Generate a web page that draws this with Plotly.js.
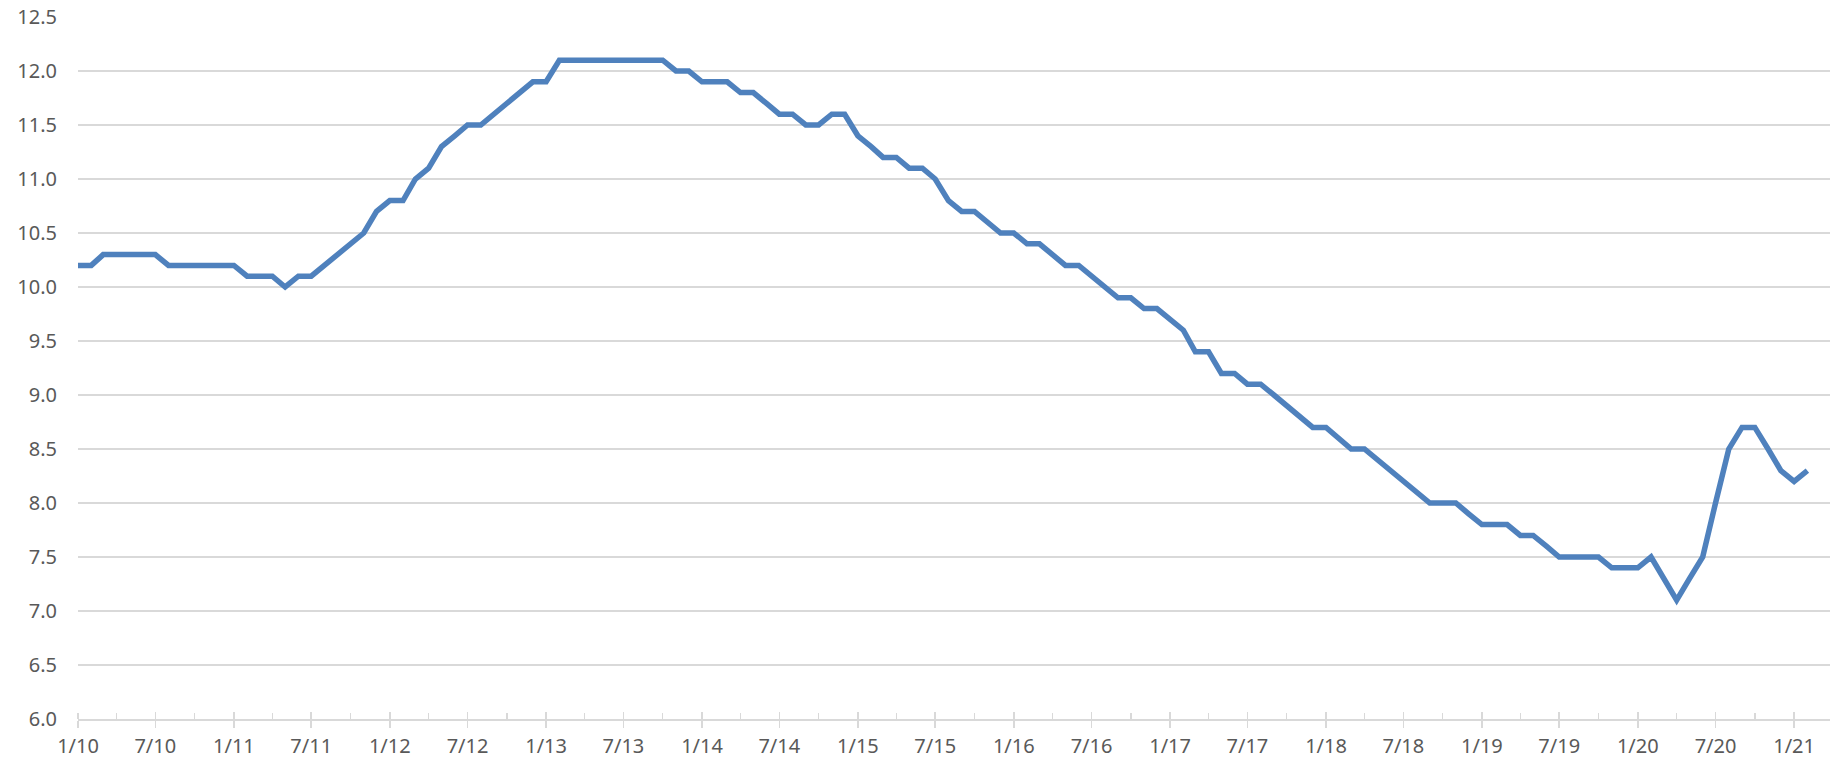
<!DOCTYPE html>
<html>
<head>
<meta charset="utf-8">
<script src="https://cdn.plot.ly/plotly-3.0.1.min.js"></script>
<style>
  html, body { margin: 0; padding: 0; background: #ffffff; }
  #chart { width: 1832px; height: 764px; }
</style>
</head>
<body>
<div id="chart"></div>
<script>
// Months (m/yy) — monthly observations, Jan 2010 to Feb 2021
const months2010 = ['2010-01','2010-02','2010-03','2010-04','2010-05','2010-06','2010-07','2010-08','2010-09','2010-10','2010-11','2010-12'];
const months2011 = ['2011-01','2011-02','2011-03','2011-04','2011-05','2011-06','2011-07','2011-08','2011-09','2011-10','2011-11','2011-12'];
const months2012 = ['2012-01','2012-02','2012-03','2012-04','2012-05','2012-06','2012-07','2012-08','2012-09','2012-10','2012-11','2012-12'];
const months2013 = ['2013-01','2013-02','2013-03','2013-04','2013-05','2013-06','2013-07','2013-08','2013-09','2013-10','2013-11','2013-12'];
const months2014 = ['2014-01','2014-02','2014-03','2014-04','2014-05','2014-06','2014-07','2014-08','2014-09','2014-10','2014-11','2014-12'];
const months2015 = ['2015-01','2015-02','2015-03','2015-04','2015-05','2015-06','2015-07','2015-08','2015-09','2015-10','2015-11','2015-12'];
const months2016 = ['2016-01','2016-02','2016-03','2016-04','2016-05','2016-06','2016-07','2016-08','2016-09','2016-10','2016-11','2016-12'];
const months2017 = ['2017-01','2017-02','2017-03','2017-04','2017-05','2017-06','2017-07','2017-08','2017-09','2017-10','2017-11','2017-12'];
const months2018 = ['2018-01','2018-02','2018-03','2018-04','2018-05','2018-06','2018-07','2018-08','2018-09','2018-10','2018-11','2018-12'];
const months2019 = ['2019-01','2019-02','2019-03','2019-04','2019-05','2019-06','2019-07','2019-08','2019-09','2019-10','2019-11','2019-12'];
const months2020 = ['2020-01','2020-02','2020-03','2020-04','2020-05','2020-06','2020-07','2020-08','2020-09','2020-10','2020-11','2020-12'];
const months2021 = ['2021-01','2021-02'];

// Series values
const values2010 = [10.2,10.2,10.3,10.3,10.3,10.3,10.3,10.2,10.2,10.2,10.2,10.2];
const values2011 = [10.2,10.1,10.1,10.1,10.0,10.1,10.1,10.2,10.3,10.4,10.5,10.7];
const values2012 = [10.8,10.8,11.0,11.1,11.3,11.4,11.5,11.5,11.6,11.7,11.8,11.9];
const values2013 = [11.9,12.1,12.1,12.1,12.1,12.1,12.1,12.1,12.1,12.1,12.0,12.0];
const values2014 = [11.9,11.9,11.9,11.8,11.8,11.7,11.6,11.6,11.5,11.5,11.6,11.6];
const values2015 = [11.4,11.3,11.2,11.2,11.1,11.1,11.0,10.8,10.7,10.7,10.6,10.5];
const values2016 = [10.5,10.4,10.4,10.3,10.2,10.2,10.1,10.0,9.9,9.9,9.8,9.8];
const values2017 = [9.7,9.6,9.4,9.4,9.2,9.2,9.1,9.1,9.0,8.9,8.8,8.7];
const values2018 = [8.7,8.6,8.5,8.5,8.4,8.3,8.2,8.1,8.0,8.0,8.0,7.9];
const values2019 = [7.8,7.8,7.8,7.7,7.7,7.6,7.5,7.5,7.5,7.5,7.4,7.4];
const values2020 = [7.4,7.5,7.3,7.1,7.3,7.5,8.0,8.5,8.7,8.7,8.5,8.3];
const values2021 = [8.2,8.3];

const months = [].concat(months2010, months2011, months2012, months2013, months2014, months2015,
                         months2016, months2017, months2018, months2019, months2020, months2021);
const values = [].concat(values2010, values2011, values2012, values2013, values2014, values2015,
                         values2016, values2017, values2018, values2019, values2020, values2021);

const gridColor = '#d9d9d9';
const textColor = '#595959';
const fontFamily = '"Noto Sans", "Open Sans", "Liberation Sans", sans-serif';
const xRange = ['2010-01-01', '2021-03-26'];

const traces = [
  {
    x: months, y: values,
    type: 'scatter', mode: 'lines',
    line: { color: '#4f81bd', width: 5.5, shape: 'linear' },
    hoverinfo: 'x+y',
    showlegend: false
  },
  {
    // invisible companion so the overlay axis (inner half of the crossing major ticks) is drawn
    x: months, y: values, xaxis: 'x2', yaxis: 'y',
    type: 'scatter', mode: 'lines',
    line: { color: 'rgba(0,0,0,0)', width: 0 },
    hoverinfo: 'skip', showlegend: false
  }
];

const layout = {
  width: 1832, height: 764,
  margin: { l: 78, r: 2, t: 17, b: 45, pad: 0 },
  paper_bgcolor: '#ffffff', plot_bgcolor: '#ffffff',
  font: { family: fontFamily, size: 20, color: textColor },
  showlegend: false,
  xaxis: {
    type: 'date',
    range: xRange,
    tick0: '2010-01-01', dtick: 'M6',
    tickformat: '%-m/%y',
    ticks: 'outside', ticklen: 7, tickwidth: 1.5, tickcolor: gridColor,
    showgrid: false, zeroline: false,
    showline: true, linecolor: gridColor, linewidth: 1.5,
    tickfont: { family: fontFamily, size: 20, color: textColor },
    ticklabelstandoff: 1,
    minor: { tick0: '2010-01-01', dtick: 'M3', ticks: 'inside', ticklen: 6, tickwidth: 1.5, tickcolor: gridColor, showgrid: false },
    fixedrange: true
  },
  xaxis2: {
    type: 'date',
    overlaying: 'x', anchor: 'y', side: 'bottom',
    range: xRange,
    tick0: '2010-01-01', dtick: 'M6',
    ticks: 'inside', ticklen: 7, tickwidth: 1.5, tickcolor: gridColor,
    showticklabels: false, showgrid: false, zeroline: false, showline: false,
    fixedrange: true
  },
  yaxis: {
    range: [6, 12.5],
    tick0: 6, dtick: 0.5,
    tickformat: '.1f',
    ticks: '',
    showgrid: true, gridcolor: gridColor, gridwidth: 1.5,
    zeroline: false, showline: false,
    tickfont: { family: fontFamily, size: 20, color: textColor },
    ticklabelstandoff: 20,
    fixedrange: true
  }
};

Plotly.newPlot('chart', traces, layout, { displayModeBar: false, staticPlot: true });
</script>
</body>
</html>
